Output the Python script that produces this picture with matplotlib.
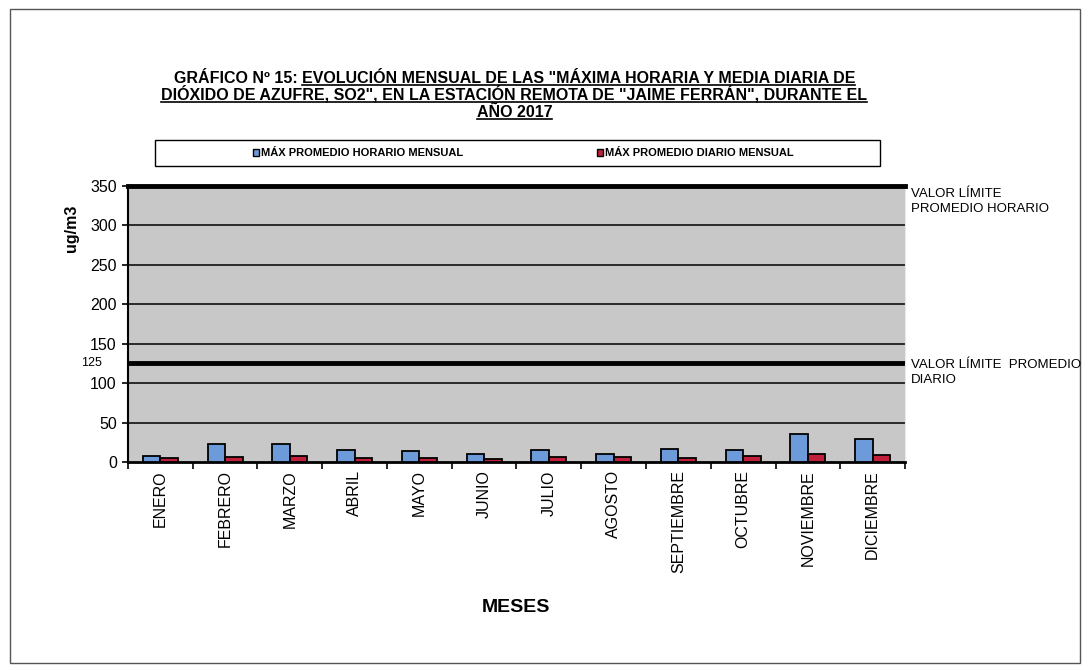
import matplotlib
matplotlib.use('Agg')
import matplotlib.pyplot as plt
import numpy as np
from matplotlib.lines import Line2D
from matplotlib.patches import Rectangle, Patch

plt.rcParams['font.family'] = ['Liberation Sans', 'DejaVu Sans']

# datos (ug/m3)
meses = ['ENERO', 'FEBRERO', 'MARZO', 'ABRIL', 'MAYO', 'JUNIO', 'JULIO',
         'AGOSTO', 'SEPTIEMBRE', 'OCTUBRE', 'NOVIEMBRE', 'DICIEMBRE']
max_horario = [8, 22.5, 22.5, 15.5, 14.5, 10.5, 15.5, 10.5, 16.5, 15.5, 35, 29]
max_diario = [4.5, 6.5, 7.5, 5, 5, 4, 6.5, 6.5, 4.5, 7, 10.5, 8.5]
limite_horario = 350
limite_diario = 125
yticks = [0, 50, 100, 150, 200, 250, 300, 350]

titulo_pre = 'GRÁFICO Nº 15: '
titulo_1 = 'EVOLUCIÓN MENSUAL DE LAS "MÁXIMA HORARIA Y MEDIA DIARIA DE'
titulo_2 = 'DIÓXIDO DE AZUFRE, SO2", EN LA ESTACIÓN REMOTA DE "JAIME FERRÁN", DURANTE EL'
titulo_3 = 'AÑO 2017'

fig = plt.figure(figsize=(10.9, 6.71), dpi=100, facecolor='white')
ax = fig.add_axes([0.1174, 0.3115, 0.7129, 0.4113])
ax.set_facecolor('#c8c8c8')

x = np.arange(len(meses))
w = 0.27
ax.bar(x - w / 2, max_horario, w, color='#6d9ad8', edgecolor='black', linewidth=1.3,
       label='MÁX PROMEDIO HORARIO MENSUAL', zorder=3)
ax.bar(x + w / 2, max_diario, w, color='#c0203c', edgecolor='black', linewidth=1.3,
       label='MÁX PROMEDIO DIARIO MENSUAL', zorder=3)

# lineas de referencia
for v in yticks[1:-1]:
    ax.axhline(v, color='black', linewidth=1.1, zorder=1)
ax.axhline(limite_horario, color='black', linewidth=3.5, zorder=4, clip_on=False)
ax.axhline(limite_diario, color='black', linewidth=3.5, zorder=4)

ax.set_xlim(-0.5, len(meses) - 0.5)
ax.set_ylim(0, 350)
ax.set_yticks(yticks)
ax.set_yticklabels([str(v) for v in yticks], fontsize=11.5)
ax.set_xticks(x)
ax.set_xticklabels(meses, rotation=90, fontsize=11.5, va='top')
ax.set_xticks(np.arange(-0.5, len(meses)), minor=True)
ax.tick_params(axis='x', which='major', length=0, pad=6)
ax.tick_params(axis='x', which='minor', length=5, width=1.2, direction='out')
ax.tick_params(axis='y', length=4, width=1.2, pad=4)

ax.spines['top'].set_visible(False)
ax.spines['right'].set_color('#e8e8e8')
ax.spines['left'].set_linewidth(1.5)
ax.spines['bottom'].set_linewidth(2)

ax.text(-0.033, limite_diario, str(limite_diario), transform=ax.get_yaxis_transform(),
        ha='right', va='center', fontsize=9)

fig.text(0.066, 0.66, 'ug/m3', rotation=90, ha='center', va='center',
         fontsize=11.5, fontweight='bold')
fig.text(0.473, 0.095, 'MESES', ha='center', va='center', fontsize=14,
         fontweight='bold')

fig.text(0.836, 0.72, 'VALOR LÍMITE\nPROMEDIO HORARIO', ha='left', va='top',
         fontsize=9.5, linespacing=1.3)
fig.text(0.836, 0.465, 'VALOR LÍMITE  PROMEDIO\nDIARIO', ha='left', va='top',
         fontsize=9.5, linespacing=1.3)

# leyenda
fig.patches.append(Rectangle((0.142, 0.752), 0.665, 0.04, transform=fig.transFigure,
                             facecolor='white', edgecolor='black', linewidth=1.0))
handles = [Patch(facecolor='#6d9ad8', edgecolor='black', linewidth=1),
           Patch(facecolor='#c0203c', edgecolor='black', linewidth=1)]
fig.legend(handles, ['MÁX PROMEDIO HORARIO MENSUAL', 'MÁX PROMEDIO DIARIO MENSUAL'],
           loc='center', bbox_to_anchor=(0.48, 0.772), ncol=2, frameon=False,
           handlelength=0.6, handleheight=0.6, handletextpad=0.15, columnspacing=12,
           prop={'weight': 'bold', 'size': 8})

# titulo con subrayado
fig.canvas.draw()
r = fig.canvas.get_renderer()
W, H = fig.bbox.width, fig.bbox.height
tprops = dict(fontsize=11.5, fontweight='bold', va='baseline')


def subrayar(t):
    bb = t.get_window_extent(r)
    yb = t.get_position()[1] * H - 2.5
    fig.add_artist(Line2D([bb.x0 / W, bb.x1 / W], [yb / H, yb / H],
                          transform=fig.transFigure, color='black', linewidth=1.2))


cx = 0.472
y1, y2, y3 = 0.877, 0.852, 0.826
tmp_a = fig.text(0, y1, titulo_pre, **tprops)
tmp_b = fig.text(0, y1, titulo_1, **tprops)
wa = tmp_a.get_window_extent(r).width
wb = tmp_b.get_window_extent(r).width
tmp_a.remove()
tmp_b.remove()
x0 = cx * W - (wa + wb) / 2
fig.text(x0 / W, y1, titulo_pre, ha='left', **tprops)
t1 = fig.text((x0 + wa) / W, y1, titulo_1, ha='left', **tprops)
t2 = fig.text(cx, y2, titulo_2, ha='center', **tprops)
t3 = fig.text(cx, y3, titulo_3, ha='center', **tprops)
for t in (t1, t2, t3):
    subrayar(t)

# marco exterior
fig.patches.append(Rectangle((0.009, 0.012), 0.982, 0.975, transform=fig.transFigure,
                             facecolor='none', edgecolor='#555555', linewidth=1.0))

fig.savefig('out.png', dpi=100)
